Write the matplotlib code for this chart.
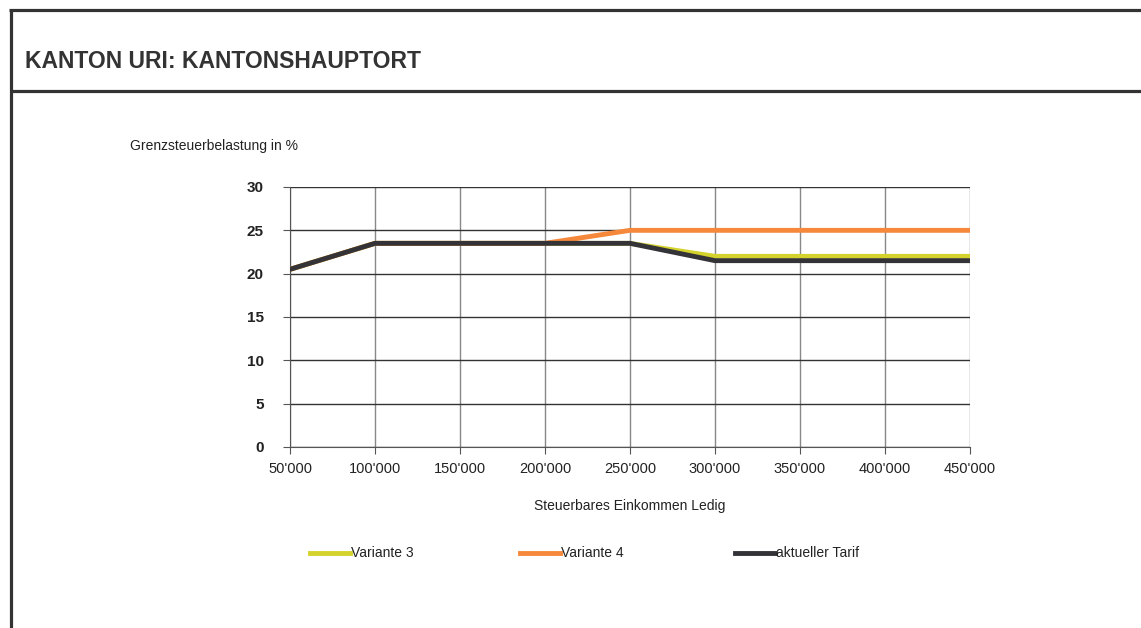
import matplotlib
matplotlib.use("Agg")
import matplotlib.pyplot as plt
from matplotlib.lines import Line2D

# Daten
einkommen = [50000, 100000, 150000, 200000, 250000, 300000, 350000, 400000, 450000]
x_labels = ["50'000", "100'000", "150'000", "200'000", "250'000",
            "300'000", "350'000", "400'000", "450'000"]
variante3 = [20.5, 23.5, 23.5, 23.5, 23.5, 22.0, 22.0, 22.0, 22.0]
variante4 = [20.5, 23.5, 23.5, 23.5, 25.0, 25.0, 25.0, 25.0, 25.0]
aktuell = [20.5, 23.5, 23.5, 23.5, 23.5, 21.5, 21.5, 21.5, 21.5]

plt.rcParams['font.family'] = ['Liberation Sans', 'DejaVu Sans']

W, H = 1141, 628
fig = plt.figure(figsize=(W / 100, H / 100), dpi=100)

def fx(px):
    return px / W

def fy(py):
    return 1 - py / H

# Rahmen (rechts offen)
frame = '#333333'
fig.add_artist(Line2D([fx(10.5), fx(10.5)], [fy(9.5), 0], color=frame, lw=2.3,
                      solid_capstyle='butt'))
fig.add_artist(Line2D([fx(9.3), 1], [fy(9.5), fy(9.5)], color=frame, lw=2.3,
                      solid_capstyle='butt'))
fig.add_artist(Line2D([fx(10), 1], [fy(90.5), fy(90.5)], color=frame, lw=2.3,
                      solid_capstyle='butt'))

fig.text(fx(25), fy(68), 'KANTON URI: KANTONSHAUPTORT', fontsize=16.5,
         fontweight='bold', color='#333333', va='baseline')

ax = fig.add_axes([fx(290), fy(447), fx(970) - fx(290), fy(187) - fy(447)])

ax.plot(einkommen, variante3, color='#d4d22c', lw=3.5, label='Variante 3', zorder=3)
ax.plot(einkommen, variante4, color='#f5883a', lw=3.5, label='Variante 4', zorder=3)
ax.plot(einkommen, aktuell, color='#333338', lw=3.5, label='aktueller Tarif', zorder=4)

ax.set_xlim(50000, 450000)
ax.set_ylim(0, 30)
ax.set_xticks(einkommen)
ax.set_xticklabels(x_labels, fontsize=10.5, color='#222222')
ax.set_yticks(range(0, 31, 5))
ax.set_yticklabels([str(v) for v in range(0, 31, 5)], fontsize=11,
                   fontweight='bold', color='#222222')
ax.xaxis.grid(True, color='#888888', lw=1)
ax.yaxis.grid(True, color='#333333', lw=1)
ax.set_axisbelow(True)
for s in ['top', 'right']:
    ax.spines[s].set_visible(False)
ax.spines['left'].set_color('#555555')
ax.spines['bottom'].set_color('#555555')
ax.tick_params(axis='both', length=5, color='#555555', direction='out', pad=6)
ax.tick_params(axis='y', pad=14)

fig.text(fx(130), fy(146), 'Grenzsteuerbelastung in %', fontsize=10,
         color='#222222', va='center')
fig.text(fx(630), fy(506), 'Steuerbares Einkommen Ledig', fontsize=10,
         color='#222222', va='center', ha='center')

# Legende
leg_x = [310, 520, 735]
names = ['Variante 3', 'Variante 4', 'aktueller Tarif']
cols = ['#d4d22c', '#f5883a', '#333338']
for lx, nm, c in zip(leg_x, names, cols):
    fig.add_artist(Line2D([fx(lx), fx(lx + 40)], [fy(553), fy(553)], color=c, lw=3.5))
    fig.text(fx(lx + 41), fy(553), nm, fontsize=10, color='#222222', va='center')

fig.savefig('out.png', dpi=100)
